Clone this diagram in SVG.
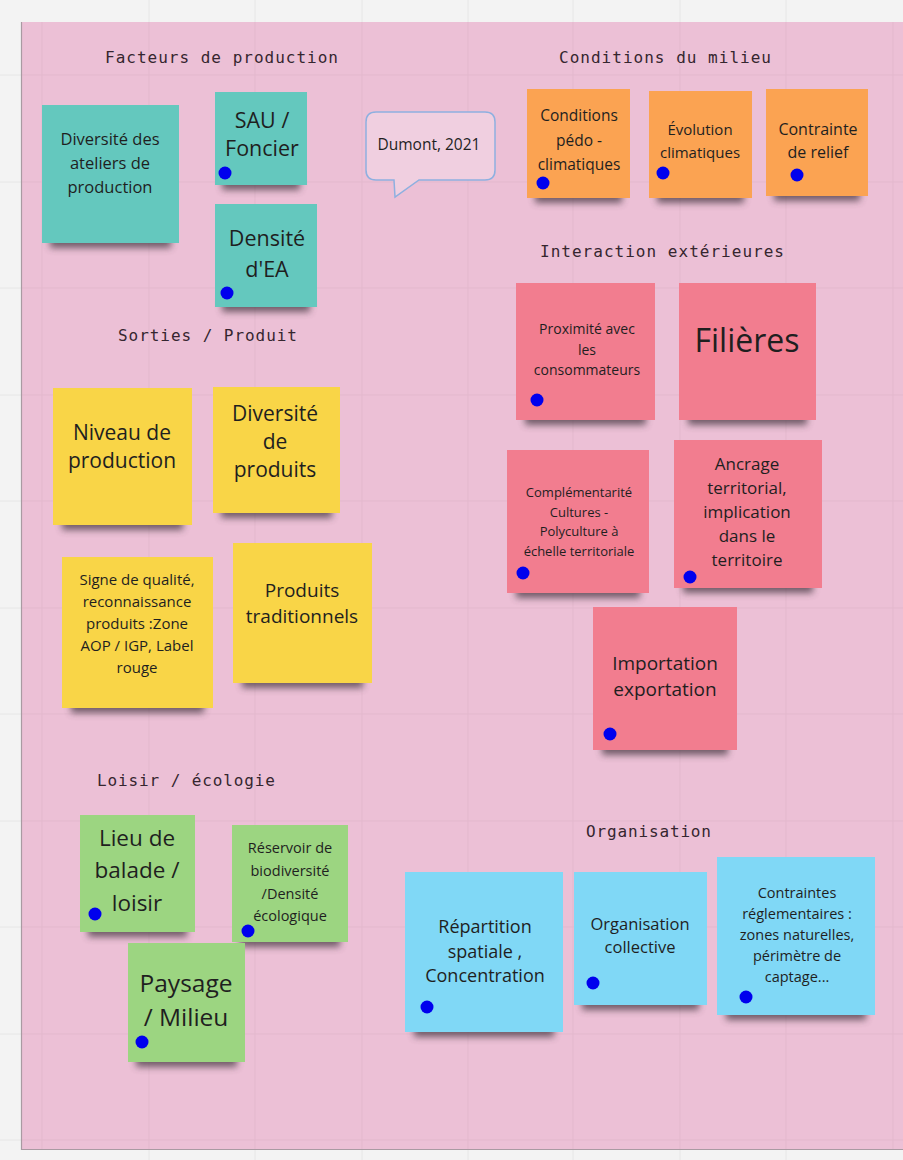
<svg xmlns="http://www.w3.org/2000/svg" width="903" height="1160" viewBox="0 0 903 1160">
<defs>
<filter id="blur" x="-20%" y="-100%" width="140%" height="300%"><feGaussianBlur stdDeviation="3.5"/></filter>
<style>
.title{font-family:"DejaVu Sans Mono","Liberation Mono",monospace;font-size:16px;fill:#35262f;text-anchor:middle}
.t{font-family:"Open Sans","Noto Sans","Liberation Sans",sans-serif;text-anchor:middle;fill:#1f1f1f}
.sh{fill:#4a3a44;opacity:.75;filter:url(#blur)}
.teal{fill:#64c8be}
.orange{fill:#fba352}
.red{fill:#f27d8f}
.yellow{fill:#f9d547}
.green{fill:#9cd581}
.blue{fill:#80d8f6}
.dot{fill:#0000ee}
.grid{stroke:#e3b8cd;stroke-width:1}
.ogrid{stroke:#e6e6e6;stroke-width:1}
</style>
</defs>
<rect x="0" y="0" width="903" height="1160" fill="#f3f3f3"/>
<g id="outer-grid">
<path class="ogrid" d="M149,0V22M255,0V22M362,0V22M468,0V22M573,0V22M680,0V22M786,0V22M149,1150V1160M255,1150V1160M362,1150V1160M468,1150V1160M573,1150V1160M680,1150V1160M786,1150V1160M0,75H21M0,182H21M0,288H21M0,395H21M0,501H21M0,608H21M0,714H21M0,821H21M0,927H21M0,1034H21M0,1140H21"/>
</g>
<g id="board">
<rect x="21" y="22" width="890" height="1127" fill="#ecc0d6"/>
<path class="grid" d="M42,22V1149M149,22V1149M255,22V1149M362,22V1149M468,22V1149M573,22V1149M680,22V1149M786,22V1149M893,22V1149M21,75H903M21,182H903M21,288H903M21,395H903M21,501H903M21,608H903M21,714H903M21,821H903M21,927H903M21,1034H903M21,1140H903"/>
<path d="M21.5,22V1149.5H903" fill="none" stroke="#a99aa2" stroke-width="1.2"/>
</g>
<g id="titles">
<text class="title" x="221.5" y="63" textLength="233" lengthAdjust="spacing">Facteurs de production</text>
<text class="title" x="665" y="63" textLength="212" lengthAdjust="spacing">Conditions du milieu</text>
<text class="title" x="662" y="257" textLength="244" lengthAdjust="spacing">Interaction extérieures</text>
<text class="title" x="207.5" y="341" textLength="179" lengthAdjust="spacing">Sorties / Produit</text>
<text class="title" x="186" y="786" textLength="178" lengthAdjust="spacing">Loisir / écologie</text>
<text class="title" x="648.5" y="837" textLength="125" lengthAdjust="spacing">Organisation</text>
</g>
<g id="connectors"></g>
<g id="bubble-dumont">
<path d="M376,112H485Q495,112 495,122V170Q495,180 485,180H419L395,197L394,180H376Q366,180 366,170V122Q366,112 376,112Z" fill="#f0cfe0" stroke="#8eb0e0" stroke-width="1.5"/>
<text class="t" x="429" y="150" font-size="15.5" fill="#333">Dumont, 2021</text>
</g>
<g id="n-diversite-ateliers">
<rect class="sh" x="50" y="229" width="121" height="14" transform="translate(0,5)"/>
<rect class="teal" x="42" y="105" width="137" height="138"/>
<text class="t" font-size="16.5"><tspan x="110" y="145">Diversité des</tspan><tspan x="110" y="169">ateliers de</tspan><tspan x="110" y="193">production</tspan></text>
</g>
<g id="n-sau">
<rect class="sh" x="222" y="171" width="78" height="14" transform="translate(0,5)"/>
<rect class="teal" x="215" y="92" width="92" height="93"/>
<text class="t" font-size="21.5"><tspan x="262" y="128">SAU /</tspan><tspan x="262" y="156">Foncier</tspan></text>
<circle class="dot" cx="225" cy="173" r="6.5"/>
</g>
<g id="n-densite">
<rect class="sh" x="222" y="293" width="88" height="14" transform="translate(0,5)"/>
<rect class="teal" x="215" y="204" width="102" height="103"/>
<text class="t" font-size="21.5"><tspan x="267" y="246">Densité</tspan><tspan x="267" y="277">d'EA</tspan></text>
<circle class="dot" cx="227" cy="293" r="6.5"/>
</g>
<g id="n-pedo">
<rect class="sh" x="535" y="184" width="87" height="14" transform="translate(0,5)"/>
<rect class="orange" x="527" y="89" width="103" height="109"/>
<text class="t" font-size="15.5"><tspan x="579" y="121">Conditions</tspan><tspan x="579" y="146">pédo -</tspan><tspan x="579" y="170">climatiques</tspan></text>
<circle class="dot" cx="543" cy="183" r="6.5"/>
</g>
<g id="n-evolution">
<rect class="sh" x="657" y="184" width="87" height="14" transform="translate(0,5)"/>
<rect class="orange" x="649" y="91" width="103" height="107"/>
<text class="t" font-size="15"><tspan x="700" y="135">Évolution</tspan><tspan x="700" y="158">climatiques</tspan></text>
<circle class="dot" cx="663" cy="173" r="6.5"/>
</g>
<g id="n-relief">
<rect class="sh" x="774" y="182" width="86" height="14" transform="translate(0,5)"/>
<rect class="orange" x="766" y="89" width="102" height="107"/>
<text class="t" font-size="16"><tspan x="818" y="135">Contrainte</tspan><tspan x="818" y="158">de relief</tspan></text>
<circle class="dot" cx="797" cy="175" r="6.5"/>
</g>
<g id="n-proximite">
<rect class="sh" x="525" y="406" width="121" height="14" transform="translate(0,5)"/>
<rect class="red" x="516" y="283" width="139" height="137"/>
<text class="t" font-size="14"><tspan x="587" y="334">Proximité avec</tspan><tspan x="587" y="355">les</tspan><tspan x="587" y="375">consommateurs</tspan></text>
<circle class="dot" cx="537" cy="400" r="6.5"/>
</g>
<g id="n-filieres">
<rect class="sh" x="688" y="406" width="119" height="14" transform="translate(0,5)"/>
<rect class="red" x="679" y="283" width="137" height="137"/>
<text class="t" font-size="32" x="747" y="352">Filières</text>
</g>
<g id="n-complementarite">
<rect class="sh" x="516" y="579" width="124" height="14" transform="translate(0,5)"/>
<rect class="red" x="507" y="450" width="142" height="143"/>
<text class="t" font-size="13"><tspan x="579" y="497">Complémentarité</tspan><tspan x="579" y="516.5">Cultures -</tspan><tspan x="579" y="536">Polyculture à</tspan><tspan x="579" y="555.5">échelle territoriale</tspan></text>
<circle class="dot" cx="523" cy="573" r="6.5"/>
</g>
<g id="n-ancrage">
<rect class="sh" x="683" y="574" width="130" height="14" transform="translate(0,5)"/>
<rect class="red" x="674" y="440" width="148" height="148"/>
<text class="t" font-size="17"><tspan x="747" y="470">Ancrage</tspan><tspan x="747" y="494">territorial,</tspan><tspan x="747" y="518">implication</tspan><tspan x="747" y="542">dans le</tspan><tspan x="747" y="566">territoire</tspan></text>
<circle class="dot" cx="690" cy="577" r="6.5"/>
</g>
<g id="n-importation">
<rect class="sh" x="602" y="736" width="126" height="14" transform="translate(0,5)"/>
<rect class="red" x="593" y="607" width="144" height="143"/>
<text class="t" font-size="19"><tspan x="665" y="670">Importation</tspan><tspan x="665" y="696">exportation</tspan></text>
<circle class="dot" cx="610" cy="734" r="6.5"/>
</g>
<g id="n-niveau">
<rect class="sh" x="62" y="511" width="121" height="14" transform="translate(0,5)"/>
<rect class="yellow" x="53" y="388" width="139" height="137"/>
<text class="t" font-size="21"><tspan x="122" y="440">Niveau de</tspan><tspan x="122" y="468">production</tspan></text>
</g>
<g id="n-diversite-produits">
<rect class="sh" x="221" y="499" width="111" height="14" transform="translate(0,5)"/>
<rect class="yellow" x="213" y="387" width="127" height="126"/>
<text class="t" font-size="21"><tspan x="275" y="421">Diversité</tspan><tspan x="275" y="449">de</tspan><tspan x="275" y="477">produits</tspan></text>
</g>
<g id="n-signe-qualite">
<rect class="sh" x="71" y="694" width="133" height="14" transform="translate(0,5)"/>
<rect class="yellow" x="62" y="557" width="151" height="151"/>
<text class="t" font-size="15"><tspan x="137" y="585">Signe de qualité,</tspan><tspan x="137" y="607">reconnaissance</tspan><tspan x="137" y="629">produits :Zone</tspan><tspan x="137" y="651">AOP / IGP, Label</tspan><tspan x="137" y="673">rouge</tspan></text>
</g>
<g id="n-traditionnels">
<rect class="sh" x="242" y="669" width="121" height="14" transform="translate(0,5)"/>
<rect class="yellow" x="233" y="543" width="139" height="140"/>
<text class="t" font-size="19"><tspan x="302" y="597">Produits</tspan><tspan x="302" y="623">traditionnels</tspan></text>
</g>
<g id="n-balade">
<rect class="sh" x="88" y="918" width="99" height="14" transform="translate(0,5)"/>
<rect class="green" x="80" y="815" width="115" height="117"/>
<text class="t" font-size="22.5"><tspan x="137" y="846">Lieu de</tspan><tspan x="137" y="878">balade /</tspan><tspan x="137" y="911">loisir</tspan></text>
<circle class="dot" cx="95" cy="914" r="6.5"/>
</g>
<g id="n-reservoir">
<rect class="sh" x="240" y="928" width="100" height="14" transform="translate(0,5)"/>
<rect class="green" x="232" y="825" width="116" height="117"/>
<text class="t" font-size="14.5"><tspan x="290" y="853">Réservoir de</tspan><tspan x="290" y="876">biodiversité</tspan><tspan x="290" y="899">/Densité</tspan><tspan x="290" y="921">écologique</tspan></text>
<circle class="dot" cx="248" cy="931" r="6.5"/>
</g>
<g id="n-paysage">
<rect class="sh" x="136" y="1048" width="101" height="14" transform="translate(0,5)"/>
<rect class="green" x="128" y="943" width="117" height="119"/>
<text class="t" font-size="24.5"><tspan x="186" y="992">Paysage</tspan><tspan x="186" y="1026">/ Milieu</tspan></text>
<circle class="dot" cx="142" cy="1042" r="6.5"/>
</g>
<g id="n-repartition">
<rect class="sh" x="414" y="1018" width="140" height="14" transform="translate(0,5)"/>
<rect class="blue" x="405" y="872" width="158" height="160"/>
<text class="t" font-size="18"><tspan x="485" y="933">Répartition</tspan><tspan x="485" y="958">spatiale ,</tspan><tspan x="485" y="982">Concentration</tspan></text>
<circle class="dot" cx="427" cy="1007" r="6.5"/>
</g>
<g id="n-organisation">
<rect class="sh" x="582" y="991" width="117" height="14" transform="translate(0,5)"/>
<rect class="blue" x="574" y="872" width="133" height="133"/>
<text class="t" font-size="16.5"><tspan x="640" y="930">Organisation</tspan><tspan x="640" y="953">collective</tspan></text>
<circle class="dot" cx="593" cy="983" r="6.5"/>
</g>
<g id="n-contraintes">
<rect class="sh" x="726" y="1001" width="140" height="14" transform="translate(0,5)"/>
<rect class="blue" x="717" y="857" width="158" height="158"/>
<text class="t" font-size="14.5"><tspan x="797" y="898">Contraintes</tspan><tspan x="797" y="919">réglementaires :</tspan><tspan x="797" y="940">zones naturelles,</tspan><tspan x="797" y="961">périmètre de</tspan><tspan x="797" y="982">captage...</tspan></text>
<circle class="dot" cx="746" cy="997" r="6.5"/>
</g>
</svg>
